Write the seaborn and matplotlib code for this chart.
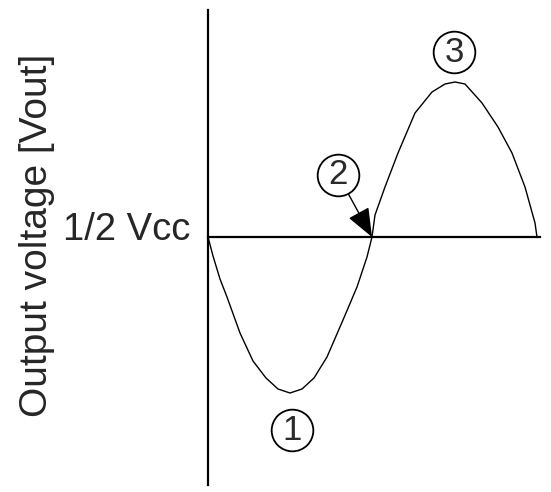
import matplotlib
matplotlib.use("Agg")
import matplotlib.pyplot as plt
import seaborn as sns

# curve (x: phase position, y: output relative to 1/2 Vcc)
wave_x = [0, 5, 12, 19, 32, 45, 58, 70, 82, 94, 106, 119, 135, 149, 159, 164,
          167, 177, 190, 207, 224, 237, 247, 257, 274, 290, 304, 317, 327, 329]
wave_y = [0, -19, -42, -60, -96, -124, -141, -152, -156, -152, -141, -120, -83, -50, -20, 0,
          22, 50, 84, 124, 145, 153, 155, 153, 134, 110, 84, 50, 14, 0]

# circled labels
mark_labels = ["1", "2", "3"]
mark_x = [84, 130, 246]
mark_y = [-193, 62, 185]
arrow_target = (164, 0)

sns.set_style("white")
plt.rcParams["font.family"] = ["Liberation Sans", "DejaVu Sans"]

fig = plt.figure(figsize=(5.51, 4.92), dpi=100)
ax = fig.add_axes([208 / 551, 7 / 492, 332 / 551, 475 / 492])

sns.lineplot(x=wave_x, y=wave_y, color="black", linewidth=1.0, estimator=None, ax=ax)

ax.set_xlim(0, 332)
ax.set_ylim(-248, 227)
ax.set_xticks([])
ax.set_yticks([])
for side in ["top", "right"]:
    ax.spines[side].set_visible(False)
ax.spines["left"].set_position(("data", 0))
ax.spines["bottom"].set_position(("data", 0))
for side in ["left", "bottom"]:
    ax.spines[side].set_color("black")
    ax.spines[side].set_linewidth(1.6)

# arrow from label 2 to the zero crossing
ax.annotate("", xy=arrow_target, xytext=(mark_x[1], mark_y[1]),
            arrowprops=dict(arrowstyle="-|>,head_length=1.0,head_width=0.4",
                            color="black", lw=1.0, shrinkA=15, shrinkB=0,
                            mutation_scale=18))

ax.scatter(mark_x, mark_y, s=900, facecolor="white", edgecolor="black",
           linewidth=1.3, zorder=5, clip_on=False)
for lab, mx, my in zip(mark_labels, mark_x, mark_y):
    ax.text(mx, my, lab, ha="center", va="center", fontsize=25,
            color="#2a2a2a", zorder=6, clip_on=False)

ax.text(-18, 7, "1/2 Vcc", ha="right", va="center", fontsize=27.5, clip_on=False)

fig.text(37 / 551, 1 - 235 / 492, "Output voltage [Vout]", rotation=90,
         ha="center", va="center", fontsize=28)

fig.savefig("out.png", dpi=100)
